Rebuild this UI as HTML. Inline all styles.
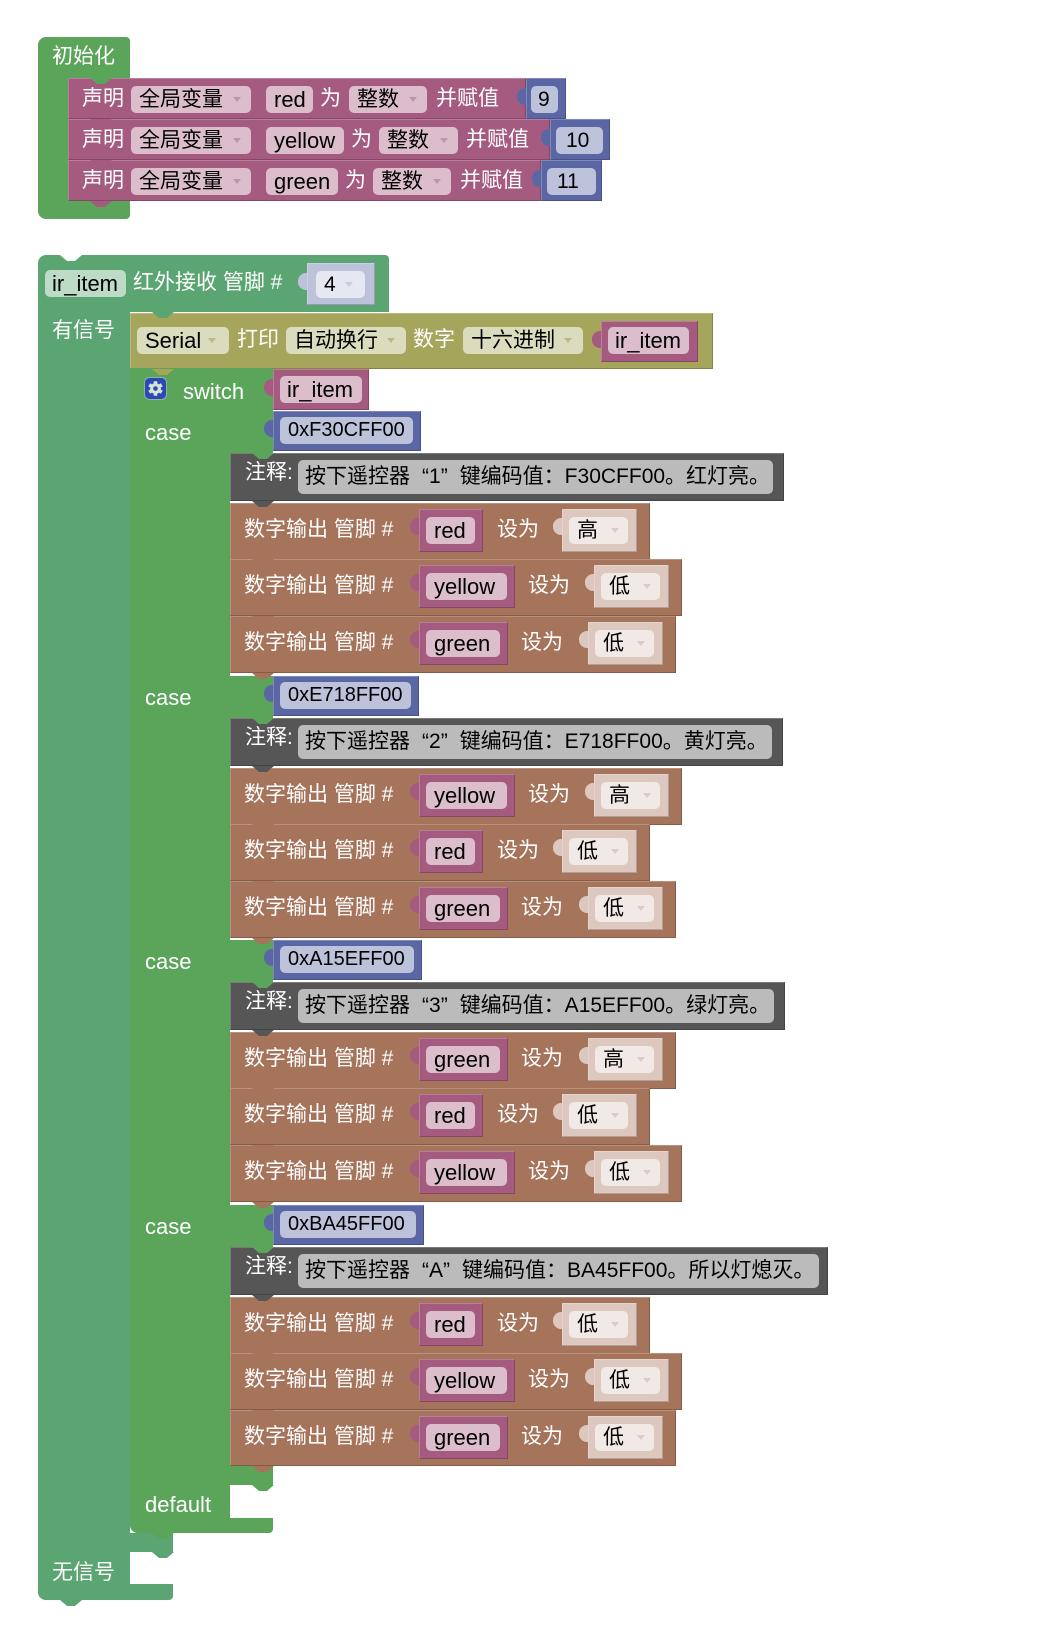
<!DOCTYPE html>
<html><head><meta charset="utf-8">
<style>
html,body{margin:0;padding:0}
body{width:1051px;height:1634px;background:#fff;position:relative;overflow:hidden;font-family:"Liberation Sans","Noto Sans CJK SC",sans-serif}
div{position:absolute;box-sizing:border-box}
.l{color:#fff;font-size:21px;line-height:22px;height:22px;white-space:nowrap}
.e{font-size:22px}
.f{border-radius:5px;color:#000;font-size:21px;line-height:27px;height:27px;padding-left:8px;white-space:nowrap}
.f.e{font-size:22px}
.f.h{font-size:20px;padding-left:8px}
.a{width:0;height:0;border-left:4px solid transparent;border-right:4px solid transparent;border-top:5px solid #999}
.n{width:22px;height:6px;clip-path:polygon(0 0,100% 0,68% 100%,32% 100%)}
.t{width:10px;height:17px;border-radius:8px 0 0 8px}
.x{box-shadow:inset -1px -1px 0 rgba(0,0,0,.2),inset 1px 1px 0 rgba(255,255,255,.22)}
.G{background:#5ba55b}.M{background:#5ba573}.P{background:#a55b80}.PF{background:#dbbdcc}
.B{background:#5b67a5}.BF{background:#bdc2db}.O{background:#a5a55b}.OF{background:#dbdbbd}
.R{background:#a5745b}.S{background:#dcc8be}.SF{background:#f1e9e5}.C{background:#565656}
.CF{background:#bbbbbb}.MF{background:#bddbc7}.LB{background:#bdc2db}.LBF{background:#e5e7f1}
.W{background:#fff}
.q1{display:inline-block;width:19px;text-align:right}
.q2{display:inline-block;width:19px;text-align:left}
.cf{border-radius:5px;color:#000;font-size:21px;line-height:34px;height:34px;padding-left:7px;white-space:nowrap}
</style></head><body>

<!-- ===== 初始化 block ===== -->
<div class="G" style="left:38px;top:37px;width:92px;height:42px;border-radius:8px 4px 0 0"></div>
<div class="G" style="left:38px;top:77px;width:30px;height:130px"></div>
<div class="G" style="left:38px;top:201px;width:92px;height:18px;border-radius:0 0 4px 8px"></div>
<div class="l" style="left:52px;top:46px">初始化</div>

<!-- row 1 -->
<div class="P x" style="left:68px;top:78px;width:458px;height:41px"></div>
<div class="l" style="left:82px;top:88px">声明</div>
<div class="f PF" style="left:131px;top:86px;width:120px">全局变量</div>
<div class="a" style="left:233px;top:97px;border-top-color:#c195aa"></div>
<div class="f PF e" style="left:266px;top:86px;width:47px">red</div>
<div class="l" style="left:320px;top:88px">为</div>
<div class="f PF" style="left:349px;top:86px;width:78px">整数</div>
<div class="a" style="left:409px;top:97px;border-top-color:#c195aa"></div>
<div class="l" style="left:436px;top:88px">并赋值</div>
<div class="t B" style="left:517px;top:88px"></div>
<div class="B x" style="left:526px;top:78px;width:40px;height:41px"></div>
<div class="f BF" style="left:531px;top:86px;width:27px;padding-left:7px">9</div>

<!-- row 2 -->
<div class="P x" style="left:68px;top:119px;width:482px;height:41px"></div>
<div class="l" style="left:82px;top:129px">声明</div>
<div class="f PF" style="left:131px;top:127px;width:120px">全局变量</div>
<div class="a" style="left:233px;top:138px;border-top-color:#c195aa"></div>
<div class="f PF e" style="left:266px;top:127px;width:78px">yellow</div>
<div class="l" style="left:351px;top:129px">为</div>
<div class="f PF" style="left:379px;top:127px;width:79px">整数</div>
<div class="a" style="left:440px;top:138px;border-top-color:#c195aa"></div>
<div class="l" style="left:466px;top:129px">并赋值</div>
<div class="t B" style="left:541px;top:129px"></div>
<div class="B x" style="left:550px;top:119px;width:60px;height:41px"></div>
<div class="f BF" style="left:556px;top:127px;width:47px;padding-left:10px">10</div>

<!-- row 3 -->
<div class="P x" style="left:68px;top:160px;width:473px;height:41px"></div>
<div class="l" style="left:82px;top:170px">声明</div>
<div class="f PF" style="left:131px;top:168px;width:120px">全局变量</div>
<div class="a" style="left:233px;top:179px;border-top-color:#c195aa"></div>
<div class="f PF e" style="left:266px;top:168px;width:72px">green</div>
<div class="l" style="left:345px;top:170px">为</div>
<div class="f PF" style="left:373px;top:168px;width:78px">整数</div>
<div class="a" style="left:433px;top:179px;border-top-color:#c195aa"></div>
<div class="l" style="left:460px;top:170px">并赋值</div>
<div class="t B" style="left:532px;top:170px"></div>
<div class="B x" style="left:541px;top:160px;width:61px;height:41px"></div>
<div class="f BF" style="left:547px;top:168px;width:49px;padding-left:10px">11</div>

<!-- ===== outer ir block ===== -->
<div class="M" style="left:38px;top:255px;width:351px;height:57px;border-radius:8px 4px 0 0"></div>
<div class="M" style="left:38px;top:311px;width:92px;height:1289px;border-radius:0 0 0 8px"></div>
<div class="M" style="left:38px;top:1533px;width:135px;height:19px"></div>
<div class="M" style="left:38px;top:1584px;width:135px;height:16px;border-radius:0 0 4px 8px"></div>
<div class="f MF e" style="left:45px;top:270px;width:81px;padding-left:7px">ir_item</div>
<div class="l" style="left:133px;top:272px">红外接收 管脚 #</div>
<div class="t LB" style="left:298px;top:273px"></div>
<div class="LB x" style="left:307px;top:263px;width:68px;height:42px"></div>
<div class="f LBF" style="left:316px;top:271px;width:49px">4</div>
<div class="a" style="left:345px;top:282px;border-top-color:#c9cbe0"></div>
<div class="l" style="left:52px;top:320px">有信号</div>
<div class="l" style="left:52px;top:1562px">无信号</div>

<!-- ===== Serial block ===== -->
<div class="O x" style="left:130px;top:313px;width:583px;height:56px"></div>
<div class="f OF e" style="left:137px;top:327px;width:92px">Serial</div>
<div class="a" style="left:208px;top:338px;border-top-color:#b9b98a"></div>
<div class="l" style="left:237px;top:329px">打印</div>
<div class="f OF" style="left:286px;top:327px;width:120px">自动换行</div>
<div class="a" style="left:387px;top:338px;border-top-color:#b9b98a"></div>
<div class="l" style="left:413px;top:329px">数字</div>
<div class="f OF" style="left:463px;top:327px;width:120px">十六进制</div>
<div class="a" style="left:564px;top:338px;border-top-color:#b9b98a"></div>
<div class="t P" style="left:592px;top:331px"></div>
<div class="P x" style="left:601px;top:321px;width:97px;height:41px"></div>
<div class="f PF e" style="left:608px;top:327px;width:81px;padding-left:7px">ir_item</div>

<!-- ===== switch block ===== -->
<div class="G" style="left:130px;top:368px;width:100px;height:1165px;border-radius:0 0 0 8px"></div>
<div class="G" style="left:130px;top:368px;width:143px;height:43px"></div>
<div class="G" style="left:130px;top:411px;width:143px;height:42px"></div>
<div class="G" style="left:130px;top:676px;width:143px;height:42px"></div>
<div class="G" style="left:130px;top:940px;width:143px;height:42px"></div>
<div class="G" style="left:130px;top:1205px;width:143px;height:42px"></div>
<div class="G" style="left:130px;top:1466px;width:143px;height:19px"></div>
<div class="G" style="left:130px;top:1518px;width:143px;height:15px;border-radius:0 0 4px 8px"></div>
<svg style="position:absolute;left:144px;top:377px" width="23" height="23" viewBox="0 0 23 23"><rect x="0.5" y="0.5" width="22" height="22" rx="5" fill="#2b48b7" stroke="#8fb3a0"/><g transform="translate(11.5,11.5)" fill="#d3e4d3"><rect x="-1.8" y="-7.3" width="3.6" height="14.6"/><rect x="-1.8" y="-7.3" width="3.6" height="14.6" transform="rotate(60)"/><rect x="-1.8" y="-7.3" width="3.6" height="14.6" transform="rotate(120)"/><circle r="5.4"/><circle r="2.3" fill="#2b48b7"/></g></svg>
<div class="l e" style="left:183px;top:381px">switch</div>
<div class="t P" style="left:264px;top:379px"></div>
<div class="P x" style="left:273px;top:369px;width:96px;height:41px"></div>
<div class="f PF e" style="left:280px;top:376px;width:82px;padding-left:7px">ir_item</div>

<!-- case labels + values -->
<div class="l e" style="left:145px;top:422px">case</div>
<div class="t B" style="left:264px;top:420px"></div>
<div class="B x" style="left:273px;top:411px;width:148px;height:40px"></div>
<div class="f BF h" style="left:280px;top:417px;width:133px">0xF30CFF00</div>

<div class="l e" style="left:145px;top:687px">case</div>
<div class="t B" style="left:264px;top:685px"></div>
<div class="B x" style="left:273px;top:676px;width:146px;height:40px"></div>
<div class="f BF h" style="left:280px;top:682px;width:131px">0xE718FF00</div>

<div class="l e" style="left:145px;top:951px">case</div>
<div class="t B" style="left:264px;top:949px"></div>
<div class="B x" style="left:273px;top:940px;width:149px;height:40px"></div>
<div class="f BF h" style="left:280px;top:946px;width:134px">0xA15EFF00</div>

<div class="l e" style="left:145px;top:1216px">case</div>
<div class="t B" style="left:264px;top:1214px"></div>
<div class="B x" style="left:273px;top:1205px;width:151px;height:40px"></div>
<div class="f BF h" style="left:280px;top:1211px;width:136px">0xBA45FF00</div>

<div class="l e" style="left:145px;top:1494px">default</div>

<!-- ===== case 1 ===== -->
<div class="C x" style="left:230px;top:453px;width:554px;height:48px"></div>
<div class="l" style="left:245px;top:462px">注释:</div>
<div class="cf CF" style="left:298px;top:460px;width:475px">按下遥控器<span class="q1">“</span>1<span class="q2">”</span>键编码值：F30CFF00。红灯亮。</div>

<div class="R x" style="left:230px;top:503px;width:420px;height:57px"></div>
<div class="l" style="left:244px;top:519px">数字输出 管脚 #</div>
<div class="t P" style="left:410px;top:518px"></div>
<div class="P x" style="left:419px;top:509px;width:64px;height:43px"></div>
<div class="f PF e" style="left:426px;top:517px;width:49px">red</div>
<div class="l" style="left:497px;top:519px">设为</div>
<div class="t S" style="left:553px;top:518px"></div>
<div class="S x" style="left:562px;top:509px;width:75px;height:43px"></div>
<div class="f SF" style="left:569px;top:517px;width:59px">高</div>
<div class="a" style="left:611px;top:528px;border-top-color:#dccbc3"></div>

<div class="R x" style="left:230px;top:559px;width:452px;height:57px"></div>
<div class="l" style="left:244px;top:575px">数字输出 管脚 #</div>
<div class="t P" style="left:410px;top:574px"></div>
<div class="P x" style="left:419px;top:565px;width:96px;height:43px"></div>
<div class="f PF e" style="left:426px;top:573px;width:81px">yellow</div>
<div class="l" style="left:528px;top:575px">设为</div>
<div class="t S" style="left:585px;top:574px"></div>
<div class="S x" style="left:594px;top:565px;width:75px;height:43px"></div>
<div class="f SF" style="left:601px;top:573px;width:59px">低</div>
<div class="a" style="left:643px;top:584px;border-top-color:#dccbc3"></div>

<div class="R x" style="left:230px;top:616px;width:446px;height:57px"></div>
<div class="l" style="left:244px;top:632px">数字输出 管脚 #</div>
<div class="t P" style="left:410px;top:631px"></div>
<div class="P x" style="left:419px;top:622px;width:89px;height:43px"></div>
<div class="f PF e" style="left:426px;top:630px;width:74px">green</div>
<div class="l" style="left:521px;top:632px">设为</div>
<div class="t S" style="left:579px;top:631px"></div>
<div class="S x" style="left:588px;top:622px;width:75px;height:43px"></div>
<div class="f SF" style="left:595px;top:630px;width:59px">低</div>
<div class="a" style="left:637px;top:641px;border-top-color:#dccbc3"></div>

<!-- ===== case 2 ===== -->
<div class="C x" style="left:230px;top:718px;width:553px;height:48px"></div>
<div class="l" style="left:245px;top:727px">注释:</div>
<div class="cf CF" style="left:298px;top:725px;width:474px">按下遥控器<span class="q1">“</span>2<span class="q2">”</span>键编码值：E718FF00。黄灯亮。</div>

<div class="R x" style="left:230px;top:768px;width:452px;height:57px"></div>
<div class="l" style="left:244px;top:784px">数字输出 管脚 #</div>
<div class="t P" style="left:410px;top:783px"></div>
<div class="P x" style="left:419px;top:774px;width:96px;height:43px"></div>
<div class="f PF e" style="left:426px;top:782px;width:81px">yellow</div>
<div class="l" style="left:528px;top:784px">设为</div>
<div class="t S" style="left:585px;top:783px"></div>
<div class="S x" style="left:594px;top:774px;width:75px;height:43px"></div>
<div class="f SF" style="left:601px;top:782px;width:59px">高</div>
<div class="a" style="left:643px;top:793px;border-top-color:#dccbc3"></div>

<div class="R x" style="left:230px;top:824px;width:420px;height:57px"></div>
<div class="l" style="left:244px;top:840px">数字输出 管脚 #</div>
<div class="t P" style="left:410px;top:839px"></div>
<div class="P x" style="left:419px;top:830px;width:64px;height:43px"></div>
<div class="f PF e" style="left:426px;top:838px;width:49px">red</div>
<div class="l" style="left:497px;top:840px">设为</div>
<div class="t S" style="left:553px;top:839px"></div>
<div class="S x" style="left:562px;top:830px;width:75px;height:43px"></div>
<div class="f SF" style="left:569px;top:838px;width:59px">低</div>
<div class="a" style="left:611px;top:849px;border-top-color:#dccbc3"></div>

<div class="R x" style="left:230px;top:881px;width:446px;height:57px"></div>
<div class="l" style="left:244px;top:897px">数字输出 管脚 #</div>
<div class="t P" style="left:410px;top:896px"></div>
<div class="P x" style="left:419px;top:887px;width:89px;height:43px"></div>
<div class="f PF e" style="left:426px;top:895px;width:74px">green</div>
<div class="l" style="left:521px;top:897px">设为</div>
<div class="t S" style="left:579px;top:896px"></div>
<div class="S x" style="left:588px;top:887px;width:75px;height:43px"></div>
<div class="f SF" style="left:595px;top:895px;width:59px">低</div>
<div class="a" style="left:637px;top:906px;border-top-color:#dccbc3"></div>

<!-- ===== case 3 ===== -->
<div class="C x" style="left:230px;top:982px;width:555px;height:48px"></div>
<div class="l" style="left:245px;top:991px">注释:</div>
<div class="cf CF" style="left:298px;top:989px;width:476px">按下遥控器<span class="q1">“</span>3<span class="q2">”</span>键编码值：A15EFF00。绿灯亮。</div>

<div class="R x" style="left:230px;top:1032px;width:446px;height:57px"></div>
<div class="l" style="left:244px;top:1048px">数字输出 管脚 #</div>
<div class="t P" style="left:410px;top:1047px"></div>
<div class="P x" style="left:419px;top:1038px;width:89px;height:43px"></div>
<div class="f PF e" style="left:426px;top:1046px;width:74px">green</div>
<div class="l" style="left:521px;top:1048px">设为</div>
<div class="t S" style="left:579px;top:1047px"></div>
<div class="S x" style="left:588px;top:1038px;width:75px;height:43px"></div>
<div class="f SF" style="left:595px;top:1046px;width:59px">高</div>
<div class="a" style="left:637px;top:1057px;border-top-color:#dccbc3"></div>

<div class="R x" style="left:230px;top:1088px;width:420px;height:57px"></div>
<div class="l" style="left:244px;top:1104px">数字输出 管脚 #</div>
<div class="t P" style="left:410px;top:1103px"></div>
<div class="P x" style="left:419px;top:1094px;width:64px;height:43px"></div>
<div class="f PF e" style="left:426px;top:1102px;width:49px">red</div>
<div class="l" style="left:497px;top:1104px">设为</div>
<div class="t S" style="left:553px;top:1103px"></div>
<div class="S x" style="left:562px;top:1094px;width:75px;height:43px"></div>
<div class="f SF" style="left:569px;top:1102px;width:59px">低</div>
<div class="a" style="left:611px;top:1113px;border-top-color:#dccbc3"></div>

<div class="R x" style="left:230px;top:1145px;width:452px;height:57px"></div>
<div class="l" style="left:244px;top:1161px">数字输出 管脚 #</div>
<div class="t P" style="left:410px;top:1160px"></div>
<div class="P x" style="left:419px;top:1151px;width:96px;height:43px"></div>
<div class="f PF e" style="left:426px;top:1159px;width:81px">yellow</div>
<div class="l" style="left:528px;top:1161px">设为</div>
<div class="t S" style="left:585px;top:1160px"></div>
<div class="S x" style="left:594px;top:1151px;width:75px;height:43px"></div>
<div class="f SF" style="left:601px;top:1159px;width:59px">低</div>
<div class="a" style="left:643px;top:1170px;border-top-color:#dccbc3"></div>

<!-- ===== case 4 ===== -->
<div class="C x" style="left:230px;top:1247px;width:598px;height:48px"></div>
<div class="l" style="left:245px;top:1256px">注释:</div>
<div class="cf CF" style="left:298px;top:1254px;width:521px">按下遥控器<span class="q1">“</span>A<span class="q2">”</span>键编码值：BA45FF00。所以灯熄灭。</div>

<div class="R x" style="left:230px;top:1297px;width:420px;height:57px"></div>
<div class="l" style="left:244px;top:1313px">数字输出 管脚 #</div>
<div class="t P" style="left:410px;top:1312px"></div>
<div class="P x" style="left:419px;top:1303px;width:64px;height:43px"></div>
<div class="f PF e" style="left:426px;top:1311px;width:49px">red</div>
<div class="l" style="left:497px;top:1313px">设为</div>
<div class="t S" style="left:553px;top:1312px"></div>
<div class="S x" style="left:562px;top:1303px;width:75px;height:43px"></div>
<div class="f SF" style="left:569px;top:1311px;width:59px">低</div>
<div class="a" style="left:611px;top:1322px;border-top-color:#dccbc3"></div>

<div class="R x" style="left:230px;top:1353px;width:452px;height:57px"></div>
<div class="l" style="left:244px;top:1369px">数字输出 管脚 #</div>
<div class="t P" style="left:410px;top:1368px"></div>
<div class="P x" style="left:419px;top:1359px;width:96px;height:43px"></div>
<div class="f PF e" style="left:426px;top:1367px;width:81px">yellow</div>
<div class="l" style="left:528px;top:1369px">设为</div>
<div class="t S" style="left:585px;top:1368px"></div>
<div class="S x" style="left:594px;top:1359px;width:75px;height:43px"></div>
<div class="f SF" style="left:601px;top:1367px;width:59px">低</div>
<div class="a" style="left:643px;top:1378px;border-top-color:#dccbc3"></div>

<div class="R x" style="left:230px;top:1410px;width:446px;height:56px"></div>
<div class="l" style="left:244px;top:1426px">数字输出 管脚 #</div>
<div class="t P" style="left:410px;top:1425px"></div>
<div class="P x" style="left:419px;top:1416px;width:89px;height:43px"></div>
<div class="f PF e" style="left:426px;top:1424px;width:74px">green</div>
<div class="l" style="left:521px;top:1426px">设为</div>
<div class="t S" style="left:579px;top:1425px"></div>
<div class="S x" style="left:588px;top:1416px;width:75px;height:43px"></div>
<div class="f SF" style="left:595px;top:1424px;width:59px">低</div>
<div class="a" style="left:637px;top:1435px;border-top-color:#dccbc3"></div>

<!-- ===== notches ===== -->
<div class="n G" style="left:90px;top:78px"></div>
<div class="n P" style="left:90px;top:119px"></div>
<div class="n P" style="left:90px;top:160px"></div>
<div class="n P" style="left:90px;top:201px"></div>
<div class="n W" style="left:60px;top:255px"></div>
<div class="n M" style="left:152px;top:312px"></div>
<div class="n O" style="left:152px;top:369px"></div>
<div class="n M" style="left:152px;top:1552px"></div>
<div class="n M" style="left:60px;top:1600px"></div>
<div class="n G" style="left:152px;top:1533px"></div>
<div class="n G" style="left:252px;top:1485px"></div>
<div class="n G" style="left:252px;top:453px"></div>
<div class="n G" style="left:252px;top:718px"></div>
<div class="n G" style="left:252px;top:982px"></div>
<div class="n G" style="left:252px;top:1247px"></div>
<div class="n C" style="left:252px;top:501px"></div>
<div class="n C" style="left:252px;top:766px"></div>
<div class="n C" style="left:252px;top:1030px"></div>
<div class="n C" style="left:252px;top:1295px"></div>
<div class="n R" style="left:252px;top:559px"></div>
<div class="n R" style="left:252px;top:616px"></div>
<div class="n R" style="left:252px;top:673px"></div>
<div class="n R" style="left:252px;top:824px"></div>
<div class="n R" style="left:252px;top:881px"></div>
<div class="n R" style="left:252px;top:938px"></div>
<div class="n R" style="left:252px;top:1088px"></div>
<div class="n R" style="left:252px;top:1145px"></div>
<div class="n R" style="left:252px;top:1202px"></div>
<div class="n R" style="left:252px;top:1353px"></div>
<div class="n R" style="left:252px;top:1410px"></div>
<div class="n R" style="left:252px;top:1466px"></div>

</body></html>
